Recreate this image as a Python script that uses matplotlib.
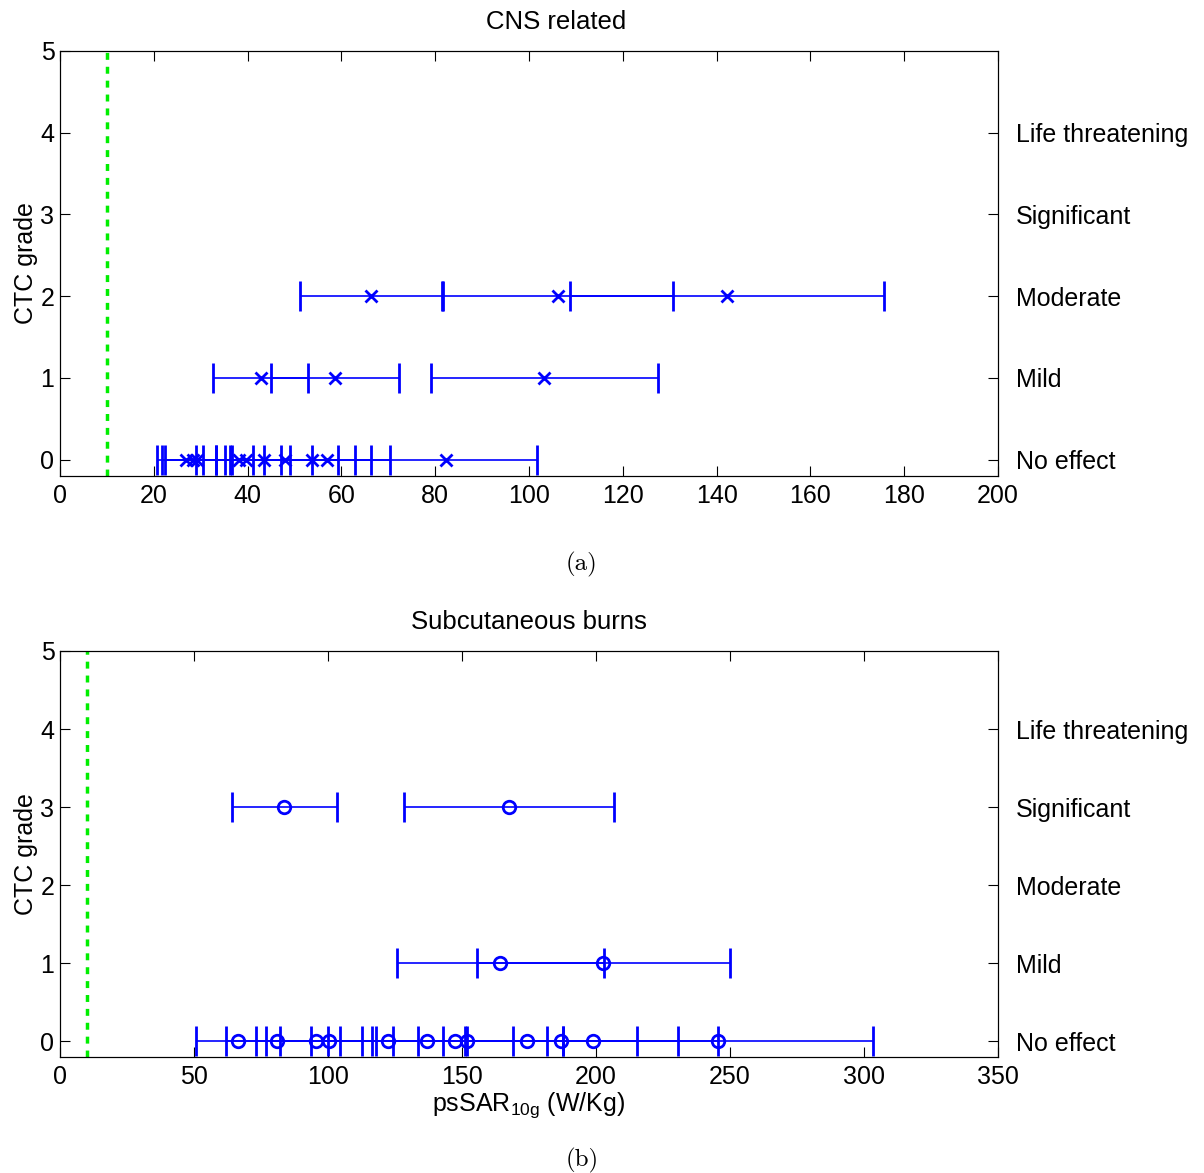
import matplotlib
matplotlib.use("Agg")
import matplotlib.pyplot as plt

plt.rcParams['font.family'] = ['Liberation Sans', 'DejaVu Sans']
plt.rcParams['mathtext.fontset'] = 'custom'
plt.rcParams['mathtext.rm'] = 'Liberation Sans'
plt.rcParams['mathtext.it'] = 'Liberation Sans'

grade_names = ["No effect", "Mild", "Moderate", "Significant", "Life threatening"]
threshold = 10

# (a) CNS related: psSAR values and +/- errors per CTC grade
cns_g0 = [26.9, 28.4, 29.3, 38.1, 39.7, 43.5, 48.0, 53.7, 57.0, 82.3]
cns_g0_err = [6.3, 6.7, 6.9, 9.0, 9.3, 10.2, 11.3, 12.6, 13.4, 19.4]
cns_g1 = [42.8, 58.6, 103.3]
cns_g1_err = [10.1, 13.7, 24.2]
cns_g2 = [66.3, 106.2, 142.2]
cns_g2_err = [15.2, 24.6, 33.4]

# (b) Subcutaneous burns
sub_g0 = [66.4, 81.1, 95.5, 100.5, 122.4, 136.8, 147.3, 152.0, 174.4, 186.8, 198.7, 245.5]
sub_g0_err = [15.6, 19.0, 22.4, 23.6, 28.7, 32.2, 34.6, 35.7, 41.0, 43.9, 46.7, 57.7]
sub_g1 = [164.2, 202.7]
sub_g1_err = [38.6, 47.2]
sub_g3 = [83.7, 167.5]
sub_g3_err = [19.6, 39.3]

cns = [(0, cns_g0, cns_g0_err), (1, cns_g1, cns_g1_err), (2, cns_g2, cns_g2_err)]
sub = [(0, sub_g0, sub_g0_err), (1, sub_g1, sub_g1_err), (3, sub_g3, sub_g3_err)]

fig = plt.figure(figsize=(12.04, 11.73), dpi=100)
ax1 = fig.add_axes([60 / 1204, 1 - 476 / 1173, 938 / 1204, 425 / 1173])
ax2 = fig.add_axes([60 / 1204, 1 - 1057 / 1173, 938 / 1204, 406 / 1173])

fs = 18


def draw(ax, groups, marker, xmax, xticks, title, title_x):
    for g, vals, errs in groups:
        ax.errorbar(vals, [g] * len(vals), xerr=errs, fmt=marker, color='blue',
                    ms=9, mew=2, mfc='none', elinewidth=1.2, capsize=11, capthick=1.4)
    ax.axvline(threshold, color='#00ee00', ls=(0, (2, 2)), lw=2.5)
    ax.set_xlim(0, xmax)
    ax.set_ylim(-0.2, 5)
    ax.set_xticks(xticks)
    ax.set_yticks(range(6))
    ax.tick_params(direction='in', length=7, labelsize=fs, top=True, pad=6)
    ax.tick_params(axis='y', pad=4)
    ax.set_ylabel("CTC grade", fontsize=fs, labelpad=2)
    ax.set_title(title, fontsize=18.5, pad=16, x=title_x)
    right = ax.twinx()
    right.set_ylim(-0.2, 5)
    right.set_yticks(range(5))
    right.set_yticklabels(grade_names)
    right.tick_params(direction='in', length=7, labelsize=fs, pad=13)


draw(ax1, cns, 'x', 200, range(0, 201, 20), "CNS related", 0.529)
draw(ax2, sub, 'o', 350, range(0, 351, 50), "Subcutaneous burns", 0.5)
ax2.set_xlabel("psSAR$_{10g}$ (W/Kg)", fontsize=fs, labelpad=1)

fig.text(582 / 1204, 1 - 564 / 1173, "(a)", fontsize=18, family='cmr10', ha='center', va='center')
fig.text(582 / 1204, 1 - 1160 / 1173, "(b)", fontsize=18, family='cmr10', ha='center', va='center')

fig.savefig("out.png", dpi=100)
